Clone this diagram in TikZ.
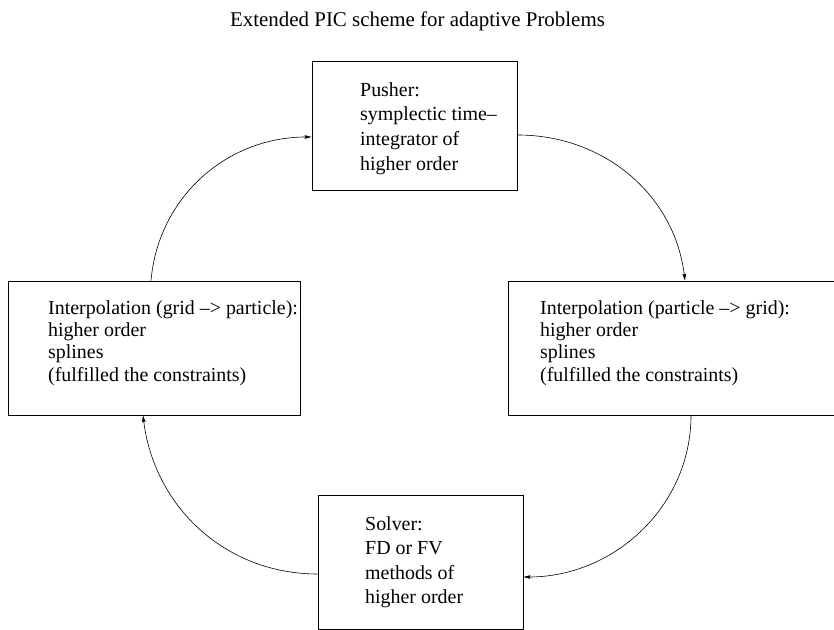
\documentclass[tikz,border=0pt]{standalone}
\usepackage{fontspec}
\setmainfont{Liberation Serif}
\usetikzlibrary{arrows.meta}
\begin{document}
\begin{tikzpicture}[x=1bp,y=1bp,
  box/.style={draw=black, line width=0.8bp, inner sep=0pt},
  txt/.style={anchor=north west, inner sep=0pt, align=left},
  conn/.style={draw=black, line width=0.6bp, -{Stealth[length=7bp,width=3.6bp,inset=1.2bp]}}]
\useasboundingbox (0,0) rectangle (834,630);
\clip (0,0) rectangle (834,630);
\node[anchor=base, inner sep=0pt, font=\fontsize{21}{25}\selectfont] (title) at (417.5,603) {Extended PIC scheme for adaptive Problems};
% boxes
\node[box, minimum width=205bp, minimum height=129bp] (P) at (414.5,504.5) {};
\node[box, minimum width=292bp, minimum height=134bp] (L) at (154,282) {};
\node[box, minimum width=330bp, minimum height=134bp] (R) at (673,282) {};
\node[box, minimum width=205bp, minimum height=134bp] (S) at (420.5,68) {};
% texts
\node[txt, font=\fontsize{20}{25}\selectfont] (Pt) at (360,548) {Pusher:\\symplectic time–\\integrator of\\higher order};
\node[txt, font=\fontsize{20}{22.5}\selectfont] (Lt) at (48,330) {Interpolation (grid –> particle):\\higher order\\splines\\(fulfilled the constraints)};
\node[txt, font=\fontsize{20}{22.5}\selectfont] (Rt) at (540,330) {Interpolation (particle –> grid):\\higher order\\splines\\(fulfilled the constraints)};
\node[txt, font=\fontsize{20}{24.5}\selectfont] (St) at (365,113.7) {Solver:\\FD or FV\\methods of\\higher order};
% connectors
\draw[conn] ([xshift=-3bp]L.north) to[out=85, in=180] ([yshift=-11.5bp]P.west);
\draw[conn] ([yshift=-9.5bp]P.east) to[out=0, in=97] ([xshift=12bp]R.north);
\draw[conn] ([xshift=18bp]R.south) to[out=-90, in=0] ([yshift=-15bp]S.east);
\draw[conn] ([yshift=-12bp]S.west) to[out=180, in=-83] ([xshift=-11bp]L.south);
\end{tikzpicture}
\end{document}
